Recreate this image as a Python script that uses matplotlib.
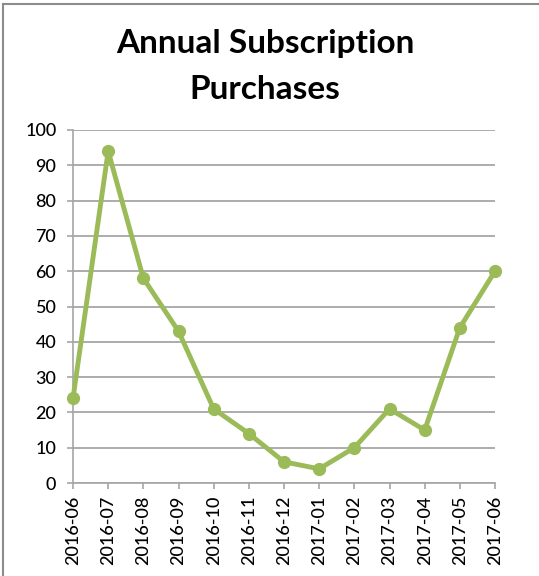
import matplotlib
matplotlib.use("Agg")
import matplotlib.pyplot as plt
from matplotlib.lines import Line2D

plt.rcParams['font.family'] = ['Lato', 'DejaVu Sans']

months = ["2016-06", "2016-07", "2016-08", "2016-09", "2016-10", "2016-11",
          "2016-12", "2017-01", "2017-02", "2017-03", "2017-04", "2017-05",
          "2017-06"]
purchases = [24, 94, 58, 43, 21, 14, 6, 4, 10, 21, 15, 44, 60]
y_ticks = [0, 10, 20, 30, 40, 50, 60, 70, 80, 90, 100]

W, H = 539, 576
fig = plt.figure(figsize=(W / 100, H / 100), dpi=100)
fig.patch.set_facecolor("white")

ax = fig.add_axes([73 / W, 1 - 483 / H, (495 - 73) / W, (483 - 130) / H])

green = "#9BBB59"
grid_c = "#A6A6A6"
x = list(range(len(months)))
ax.plot(x, purchases, color=green, linewidth=3.5, marker="o",
        markersize=8.5, markerfacecolor=green, markeredgecolor=green,
        solid_joinstyle="miter", clip_on=False, zorder=3)

ax.set_xlim(0, len(months) - 1)
ax.set_ylim(0, 100)
ax.set_yticks(y_ticks)
ax.set_xticks(x)
ax.set_xticklabels(months, rotation=90)

ax.yaxis.grid(True, color=grid_c, linewidth=1.3)
ax.set_axisbelow(True)
for s in ("top", "right"):
    ax.spines[s].set_visible(False)
for s in ("left", "bottom"):
    ax.spines[s].set_color(grid_c)
    ax.spines[s].set_linewidth(1.2)

ax.tick_params(axis="y", direction="out", length=4.5, width=1.2,
               color=grid_c, labelsize=13, pad=7.5, labelcolor="black")
ax.tick_params(axis="x", direction="out", length=4, width=1.2,
               color=grid_c, labelsize=13, pad=5, labelcolor="black")
for lbl in ax.get_xticklabels() + ax.get_yticklabels():
    lbl.set_fontweight("medium")

fig.text(265 / W, 1 - 29 / H, "Annual Subscription\nPurchases",
         ha="center", va="top", fontsize=24, fontweight="bold",
         linespacing=1.72, color="black")

# chart frame
border = "#8C8C8C"
fig.add_artist(Line2D([2.5 / W, 2.5 / W], [0, 1 - 3.5 / H],
                      transform=fig.transFigure, color=border, linewidth=1.5))
fig.add_artist(Line2D([2.5 / W, 1], [1 - 3.5 / H, 1 - 3.5 / H],
                      transform=fig.transFigure, color=border, linewidth=1.5))

fig.savefig("out.png", dpi=100, facecolor="white")
